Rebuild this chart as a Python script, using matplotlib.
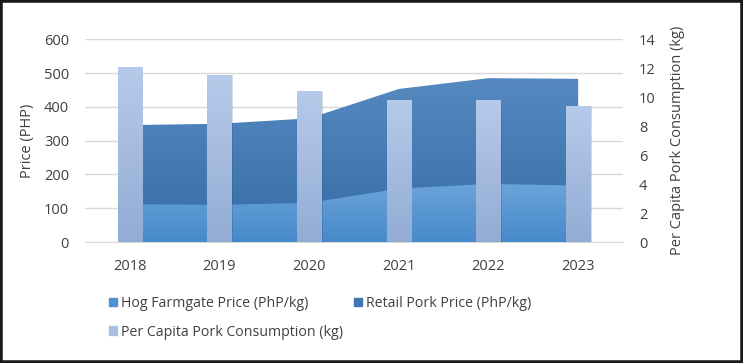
import numpy as np
import matplotlib.pyplot as plt
from matplotlib.patches import Patch, Rectangle
from matplotlib.colors import LinearSegmentedColormap

plt.rcParams['font.family'] = ['Open Sans', 'DejaVu Sans']

years = ['2018', '2019', '2020', '2021', '2022', '2023']
farmgate = [112, 110, 116, 158, 172, 167]        # PhP/kg
retail = [346, 350, 366, 453, 485, 483]          # PhP/kg
consumption = [12.1, 11.55, 10.4, 9.82, 9.82, 9.4]  # kg

txt = '#404040'
fs = 10.5


def grad(ax, clip, c_top, c_bot, extent, z, transform=None):
    # vertical gradient clipped to a patch / path, like the office chart fills
    cmap = LinearSegmentedColormap.from_list('g', [c_bot, c_top])
    im = ax.imshow(np.linspace(0, 1, 256).reshape(-1, 1), cmap=cmap, origin='lower',
                   extent=extent, aspect='auto', zorder=z, interpolation='bilinear')
    if transform is None:
        im.set_clip_path(clip)
    else:
        im.set_clip_path(clip, transform=transform)
    return im


fig = plt.figure(figsize=(7.43, 3.63), dpi=100)
ax = fig.add_axes([85 / 743, 1 - 242 / 363, 538 / 743, 202.7 / 363])
ax2 = ax.twinx()

x = np.arange(len(years))

# areas (not stacked: retail behind farmgate)
r = ax.fill_between(x, 0, retail, color='#4077b2', lw=0, zorder=2)
grad(ax, r.get_paths()[0], '#5589c0', '#366ca6', [0, 5, 0, max(retail)], 2.1, ax.transData)
r.set_visible(False)
f = ax.fill_between(x, 0, farmgate, color='#5796d2', lw=0, zorder=3)
grad(ax, f.get_paths()[0], '#6ba4da', '#4689ca', [0, 5, 0, max(farmgate)], 3.1, ax.transData)
f.set_visible(False)

ax.set_xlim(-0.5, 5.5)
ax.set_ylim(0, 600)
ax.set_yticks(range(0, 601, 100))
ax.yaxis.grid(True, color='#d9d9d9', lw=1)
ax.set_axisbelow(True)
ax.set_xticks(x)
ax.set_xticklabels(years)

# bars on the secondary axis
bars = ax2.bar(x, consumption, width=0.27, color='#a8bfe2', zorder=2)
for b in bars:
    b.set_facecolor('none')
    b.set_edgecolor('none')
    x0, w, h = b.get_x(), b.get_width(), b.get_height()
    sh = Rectangle((x0 + 0.015, 0), w, h - 0.05, color='#1f3a60', alpha=0.18, lw=0, zorder=1.5)
    ax2.add_patch(sh)
    grad(ax2, b, '#b6cbea', '#93acd4', [x0, x0 + w, 0, h], 2)
ax2.set_ylim(0, 14)
ax2.set_yticks(range(0, 15, 2))
ax2.set_xlim(-0.5, 5.5)

for a in (ax, ax2):
    for s in a.spines.values():
        s.set_visible(False)
    a.tick_params(length=0, labelsize=fs, colors=txt)
ax.spines['bottom'].set_visible(True)
ax.spines['bottom'].set_color('#d9d9d9')
ax.tick_params(axis='y', pad=11.5)
ax.tick_params(axis='x', pad=12)
ax2.tick_params(axis='y', pad=11.5)

ax.set_ylabel('Price (PHP)', fontsize=fs, color=txt, labelpad=6)
ax2.set_ylabel('Per Capita Pork Consumption (kg)', fontsize=fs, color=txt, labelpad=10)

h_farm = Patch(color='#4f91d0', label='Hog Farmgate Price (PhP/kg)')
h_ret = Patch(color='#3f76b0', label='Retail Pork Price (PhP/kg)')
h_cons = Patch(color='#a9c0e3', label='Per Capita Pork Consumption (kg)')
# legend fills column by column, so this order gives rows: farm, retail / consumption
leg = fig.legend(handles=[h_farm, h_cons, h_ret], loc='upper left',
                 bbox_to_anchor=(102 / 743, 1 - 289 / 363),
                 ncol=2, frameon=False, fontsize=10.2, handlelength=0.55, handleheight=0.55,
                 handletextpad=0.3, columnspacing=0.75, labelspacing=0.95, borderpad=0)
for t in leg.get_texts():
    t.set_color(txt)

fig.patches.append(Rectangle((0, 0), 1, 1, transform=fig.transFigure, fill=False,
                             edgecolor='#1a1a1a', lw=4, zorder=10))

fig.savefig('out.png', dpi=100)
